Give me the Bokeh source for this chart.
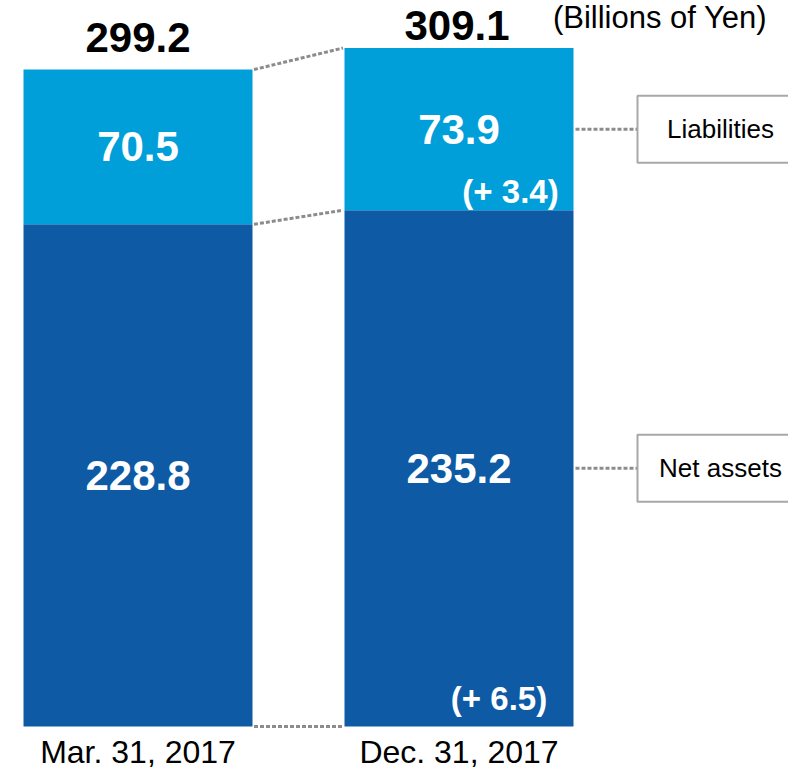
from bokeh.plotting import figure
from bokeh.models import Range1d, ColumnDataSource
from bokeh.core.properties import value
from bokeh.embed import file_html
from bokeh.resources import INLINE

# ---- data ----
categories = ["Mar. 31, 2017", "Dec. 31, 2017"]
net_assets = [228.8, 235.2]
liabilities = [70.5, 73.9]
totals = [299.2, 309.1]
delta_liabilities = 3.4
delta_net_assets = 6.5
series_names = ["Liabilities", "Net assets"]
unit_label = "(Billions of Yen)"

# ---- layout ----
W, H = 788, 772
BASE_PX = 726          # pixel row of value zero
PX_PER_UNIT = 2.195
BAR_PITCH = 321
FIRST_BAR_PX = 137.5
BAR_W_PX = 229
DARK = "#0e5aa5"
LIGHT = "#009fd9"
GREY = "#8c8c8c"
FONT = value("Liberation Sans")

x_start = -FIRST_BAR_PX / BAR_PITCH
x_end = (W - FIRST_BAR_PX) / BAR_PITCH
y_end = BASE_PX / PX_PER_UNIT
y_start = -(H - BASE_PX) / PX_PER_UNIT


def xpx(px):
    return (px - FIRST_BAR_PX) / BAR_PITCH


p = figure(width=W, height=H, x_range=Range1d(x_start, x_end),
           y_range=Range1d(y_start, y_end), output_backend="svg",
           toolbar_location=None, min_border=0,
           x_axis_location=None, y_axis_location=None)
p.grid.visible = False
p.outline_line_color = None

xs = list(range(len(categories)))
bw = BAR_W_PX / BAR_PITCH
tops = [n + l for n, l in zip(net_assets, liabilities)]
net_mid = [n / 2 for n in net_assets]
liab_mid = [n + l / 2 for n, l in zip(net_assets, liabilities)]

src = ColumnDataSource(dict(x=xs, net=net_assets, top=tops, total=totals,
                            net_mid=net_mid, liab_mid=liab_mid,
                            net_lbl=[f"{v:.1f}" for v in net_assets],
                            liab_lbl=[f"{v:.1f}" for v in liabilities],
                            tot_lbl=[f"{v:.1f}" for v in totals],
                            cat=categories,
                            tot_xoff=[0, -2],
                            tot_off=[-32, -23]))

p.vbar(x="x", bottom=0, top="net", width=bw, fill_color=DARK,
       line_color=None, source=src)
p.vbar(x="x", bottom="net", top="top", width=bw, fill_color=LIGHT,
       line_color=None, source=src)

gap = 1.5 / BAR_PITCH
p.segment(x0=[xs[0] + bw / 2 + gap] * 3, x1=[xs[1] - bw / 2 - gap] * 3,
          y0=[tops[0], net_assets[0], 0], y1=[tops[1], net_assets[1], 0],
          line_color=GREY, line_width=3, line_dash="4 2")

box_left = xpx(637)
box_cx = xpx(720)
p.segment(x0=[xs[1] + bw / 2 + 2 / BAR_PITCH] * 2, x1=[box_left] * 2,
          y0=[liab_mid[1], net_mid[1]], y1=[liab_mid[1], net_mid[1]],
          line_color=GREY, line_width=3, line_dash="4 2")

p.rect(x=[box_cx] * 2, y=[liab_mid[1], net_mid[1]], width=166, height=67,
       width_units="screen", height_units="screen", fill_color="white",
       line_color="#a8a8a8", line_width=2)
p.text(x=[box_cx] * 2, y=[liab_mid[1], net_mid[1]], text=series_names,
       text_font=FONT, text_font_size="26px", text_color="black",
       text_align="center", text_baseline="alphabetic", y_offset=-0.5)

p.text(x="x", y="liab_mid", text="liab_lbl", source=src, text_font=FONT,
       text_font_size="42px", text_font_style="bold", text_color="white",
       text_align="center", text_baseline="alphabetic", y_offset=0)
p.text(x="x", y="net_mid", text="net_lbl", source=src, text_font=FONT,
       text_font_size="42px", text_font_style="bold", text_color="white",
       text_align="center", text_baseline="alphabetic", y_offset=0)
p.text(x="x", y="total", text="tot_lbl", source=src, text_font=FONT,
       text_font_size="42px", text_font_style="bold", text_color="black",
       text_align="center", text_baseline="alphabetic",
       x_offset="tot_xoff", y_offset="tot_off")

p.text(x=[xs[1]], y=[net_assets[1]], text=[f"(+ {delta_liabilities:.1f})"],
       text_font=FONT, text_font_size="33px", text_font_style="bold",
       text_color="white", text_align="center", text_baseline="alphabetic",
       x_offset=51.5, y_offset=-19)
p.text(x=[xs[1]], y=[0], text=[f"(+ {delta_net_assets:.1f})"],
       text_font=FONT, text_font_size="33px", text_font_style="bold",
       text_color="white", text_align="center", text_baseline="alphabetic",
       x_offset=40, y_offset=-28)

p.text(x="x", y=0, text="cat", source=src, text_font=FONT,
       text_font_size="32px", text_color="black", text_align="center",
       text_baseline="alphabetic", y_offset=25)

p.text(x=[xpx(659.5)], y=[y_end], text=[unit_label], text_font=FONT,
       text_font_size="31px", text_color="black", text_align="center",
       text_baseline="alphabetic", y_offset=17)

open("out.html", "w").write(file_html(p, INLINE))
